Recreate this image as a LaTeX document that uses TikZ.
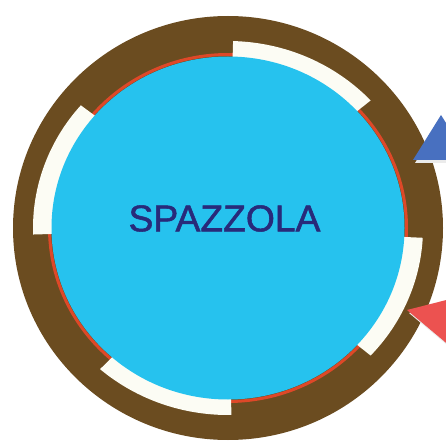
\documentclass[tikz,border=0pt]{standalone}
\usepackage{fontspec}
\setmainfont{Liberation Sans}
\newfontfamily\lblfont[FakeBold=1.4]{Liberation Sans}
\usepackage{tikz}
\usetikzlibrary{positioning,calc}

\definecolor{ringbrown}{RGB}{107,76,32}
\definecolor{brushcyan}{RGB}{38,194,238}
\definecolor{edgered}{RGB}{222,72,40}
\definecolor{gapwhite}{RGB}{252,252,244}
\definecolor{labelnavy}{RGB}{40,42,122}
\definecolor{inblue}{RGB}{72,112,192}
\definecolor{outred}{RGB}{236,82,80}

\begin{document}
\begin{tikzpicture}[x=0.5mm,y=0.5mm,
  ring/.style={fill=ringbrown},
  gap/.style={fill=gapwhite},
  brush/.style={fill=brushcyan},
  lbl/.style={inner sep=0pt,text=labelnavy,font=\lblfont\fontsize{53}{60}\selectfont},
  tri/.style={draw=none}
]
  \useasboundingbox (0,0) rectangle (446,440);
  \clip (0,0) rectangle (446,440);
  \fill[white] (0,0) rectangle (446,440);
  \coordinate (c) at (228,212);

  % outer ring and the thin red edge
  \fill[ring] (c) ellipse [x radius=215,y radius=212];
  \draw[edgered,line width=1.5mm] (c) ellipse [x radius=178.5,y radius=173.5];

  % white gaps in the ring
  \foreach \a/\b in {43/88.5,139/182,229/271,317/357}
    \fill[gap] ($(c)+(\a:195 and 187)$) arc[start angle=\a,end angle=\b,x radius=195,y radius=187]
      -- ($(c)+(\b:175 and 170)$) arc[start angle=\b,end angle=\a,x radius=175,y radius=170] -- cycle;

  \fill[brush] (c) ellipse [x radius=176.5,y radius=171.5];
  \node[lbl] (spazzola) at (224.5,221.5) {SPAZZOLA};

  % arrows on the right edge
  \fill[black!8] (415,277) -- (443,322) -- (471,277) -- cycle;
  \fill[inblue,tri] (413,280) -- (441,325) -- (469,280) -- cycle;
  \fill[black!8] (409,127) -- (472,143) -- (472,74) -- cycle;
  \fill[outred,tri] (407,130) -- (470,146) -- (470,77) -- cycle;
\end{tikzpicture}
\end{document}
